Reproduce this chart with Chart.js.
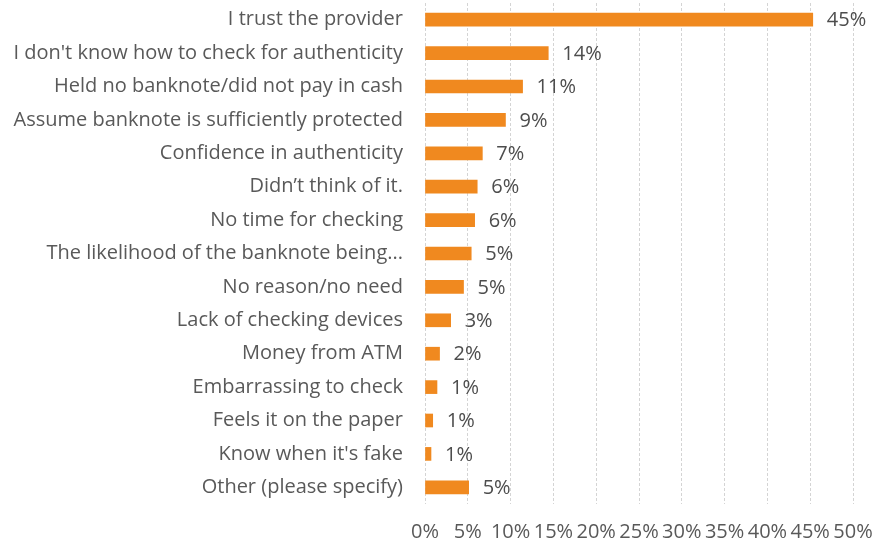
<html>
<head>
    <title>Reasons for not checking banknotes</title>
    <script src="https://cdn.jsdelivr.net/npm/chart.js"></script>
    <style>
        body { margin: 0; background: #fff; }
        #wrap { width: 877px; height: 544px; }
    </style>
</head>
<body>
    <div id="wrap">
        <canvas id="myChart" width="877" height="544"></canvas>
    </div>

<script>
    // answers, top to bottom
    const reasons = [
        "I trust the provider",
        "I don't know how to check for authenticity",
        "Held no banknote/did not pay in cash",
        "Assume banknote is sufficiently protected",
        "Confidence in authenticity",
        "Didn\u2019t think of it.",
        "No time for checking",
        "The likelihood of the banknote being...",
        "No reason/no need",
        "Lack of checking devices",
        "Money from ATM",
        "Embarrassing to check",
        "Feels it on the paper",
        "Know when it's fake",
        "Other (please specify)"
    ];

    // share of respondents, in percent
    const shares = [45.3, 14.4, 11.4, 9.4, 6.7, 6.1, 5.8, 5.4, 4.5, 3.0, 1.7, 1.4, 0.9, 0.7, 5.1];

    const xTicks = [0, 5, 10, 15, 20, 25, 30, 35, 40, 45, 50];

    const fontFamily = "'Open Sans', Lato, sans-serif";
    const fontSize = 20;

    // writes the rounded percentage just past the end of each bar
    const valueLabels = {
        id: 'valueLabels',
        afterDatasetsDraw(chart) {
            const ctx = chart.ctx;
            const meta = chart.getDatasetMeta(0);
            ctx.save();
            ctx.font = fontSize + 'px ' + fontFamily;
            ctx.fillStyle = '#4d4d4d';
            ctx.textAlign = 'left';
            ctx.textBaseline = 'middle';
            meta.data.forEach((bar, i) => {
                ctx.fillText(Math.round(shares[i]) + '%', bar.x + 14, bar.y + 1);
            });
            ctx.restore();
        }
    };

    const ctx = document.getElementById('myChart').getContext('2d');
    new Chart(ctx, {
        type: 'bar',
        data: {
            labels: reasons,
            datasets: [{
                data: shares,
                backgroundColor: '#F0891F',
                barThickness: 13
            }]
        },
        plugins: [valueLabels],
        options: {
            indexAxis: 'y',
            responsive: false,
            animation: false,
            layout: { padding: { top: 3, right: 24, bottom: 0, left: 0 } },
            plugins: {
                legend: { display: false },
                tooltip: { enabled: false }
            },
            scales: {
                x: {
                    min: 0,
                    max: 50,
                    afterBuildTicks: (scale) => {
                        scale.ticks = xTicks.map(v => ({ value: v }));
                    },
                    afterFit: (scale) => {
                        scale.height = 40;
                        scale.paddingLeft = 0;
                        scale.paddingRight = 0;
                    },
                    border: { display: false, dash: [3, 2] },
                    grid: {
                        color: '#d4d4d4',
                        lineWidth: 1,
                        drawTicks: false
                    },
                    ticks: {
                        padding: 16,
                        color: '#595959',
                        font: { family: fontFamily, size: fontSize },
                        maxRotation: 0,
                        autoSkip: false,
                        callback: (v) => v + '%'
                    }
                },
                y: {
                    afterFit: (scale) => {
                        scale.width = 425;
                        scale.paddingTop = 0;
                        scale.paddingBottom = 0;
                    },
                    border: { display: false },
                    grid: { display: false, drawTicks: false },
                    ticks: {
                        padding: 22,
                        color: '#595959',
                        autoSkip: false,
                        font: { family: fontFamily, size: fontSize }
                    }
                }
            }
        }
    });
</script>
</body>
</html>
